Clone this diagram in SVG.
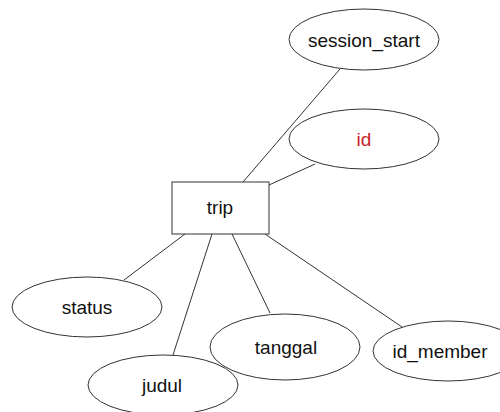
<svg xmlns="http://www.w3.org/2000/svg" width="500" height="412" viewBox="0 0 500 412">
<style>
.e{fill:none;stroke:#333;stroke-width:1}
.r{fill:#fff;stroke:#333;stroke-width:1}
.t{font-family:"Liberation Sans",Arial,sans-serif;font-size:19px;fill:#111;text-anchor:middle}
.c line{stroke:#333;stroke-width:1}
</style>
<rect width="500" height="412" fill="#fff"/>
<g id="connectors" class="c">
<line x1="340" y1="69" x2="243" y2="182"/>
<line x1="315" y1="164" x2="269" y2="185"/>
<line x1="185" y1="234" x2="124" y2="280"/>
<line x1="212" y1="234" x2="173" y2="355"/>
<line x1="232" y1="234" x2="270" y2="313"/>
<line x1="265" y1="234" x2="402" y2="327"/>
</g>
<g id="trip"><rect class="r" x="172" y="182" width="97" height="52"/><text class="t" x="220" y="214">trip</text></g>
<g id="session_start"><ellipse class="e" cx="364" cy="39.5" rx="75" ry="30.5"/><text class="t" x="364" y="47">session_start</text></g>
<g id="id"><ellipse class="e" cx="364" cy="139" rx="75" ry="30"/><text class="t" x="364" y="146" style="fill:#c8232c">id</text></g>
<g id="status"><ellipse class="e" cx="87" cy="307" rx="75" ry="30"/><text class="t" x="87" y="314">status</text></g>
<g id="judul"><ellipse class="e" cx="163" cy="385" rx="75" ry="30"/><text class="t" x="162" y="392">judul</text></g>
<g id="tanggal"><ellipse class="e" cx="285" cy="347" rx="75" ry="33"/><text class="t" x="286" y="354">tanggal</text></g>
<g id="id_member"><ellipse class="e" cx="448" cy="351" rx="75" ry="30"/><text class="t" x="440" y="358">id_member</text></g>
</svg>
